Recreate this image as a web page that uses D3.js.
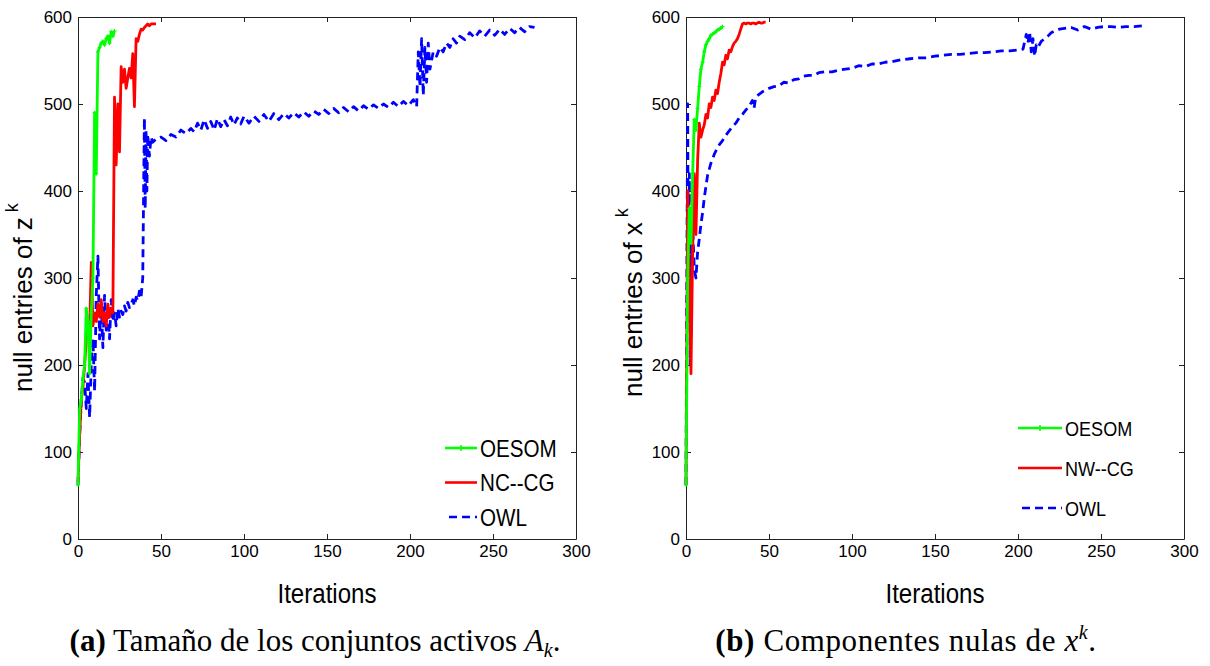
<!DOCTYPE html>
<meta charset="utf-8">
<style>
	body { margin: 0; background: #fff; }
	svg { display: block; }
	.tick > text { font-family: "Liberation Sans", Arial, sans-serif; font-size: 17px; fill: #000; }
	.domain, .tick > line { stroke: #222; }
	.axlabel { font-family: "Liberation Sans", Arial, sans-serif; fill: #000; }
	.legend text { font-family: "Liberation Sans", Arial, sans-serif; fill: #000; }
	.caption { font-family: "Liberation Serif", "DejaVu Serif", serif; font-size: 31px; fill: #000; }
	.line { fill: none; stroke-width: 2.8px; stroke-linejoin: round; }
</style>
<body>
<div id="chart"></div>
<script src="https://cdn.jsdelivr.net/npm/d3@7"></script>
<script>
// ---- data ----
var xTicks = [0, 50, 100, 150, 200, 250, 300];
var yTicks = [0, 100, 200, 300, 400, 500, 600];

// (a) active set sizes, one value per iteration
var oesomA = [62, 150, 160, 185, 200, 265, 250, 190, 260, 300, 490, 420, 560, 565, 570, 572, 568, 575, 578, 570, 583, 578, 584];
var nccgA = [65, 120, 160, 175, 200, 230, 250, 240, 318, 245, 260, 250, 270, 255, 275, 250, 260, 245, 270, 255, 265, 260,
	508, 430, 500, 445, 543, 525, 540, 518, 530, 541, 530, 558, 497, 575, 572, 580, 586, 585, 588, 590, 592, 590, 592, 592, 592, 592];
// OWL: [iteration, value]
var owlA = [[0, 62], [1, 120], [2, 160], [3, 185], [4, 180], [5, 150], [6, 190], [7, 140], [8, 200], [9, 230], [10, 170],
	[11, 280], [12, 325], [13, 230], [14, 270], [15, 220], [16, 280], [17, 240], [18, 265], [19, 230], [20, 275], [21, 250],
	[22, 260], [23, 245], [24, 265], [25, 255], [26, 262], [27, 258], [28, 268], [29, 262], [30, 272], [31, 266], [32, 270],
	[33, 275], [34, 268], [35, 278], [36, 274], [37, 285], [38, 278], [39, 300], [40, 484], [40.5, 380], [41, 470], [41.5, 400],
	[42, 465], [43, 440], [44, 462], [45, 456], [47, 460], [50, 462], [53, 458], [56, 465], [59, 462], [62, 470], [65, 466],
	[68, 472], [70, 468], [72, 478], [74, 470], [76, 482], [78, 472], [80, 480], [82, 470], [84, 483], [86, 474], [88, 482],
	[90, 475], [92, 485], [94, 476], [96, 484], [98, 477], [100, 486], [103, 478], [106, 486], [109, 480], [112, 488],
	[115, 480], [118, 489], [121, 482], [124, 489], [127, 484], [130, 490], [133, 485], [136, 491], [139, 486], [142, 492],
	[145, 488], [148, 494], [151, 489], [154, 495], [157, 490], [160, 496], [163, 491], [166, 497], [169, 492], [172, 498],
	[175, 494], [178, 499], [181, 495], [184, 500], [187, 496], [190, 502], [193, 497], [196, 503], [199, 498], [202, 505],
	[204, 497], [205, 560], [206, 520], [207, 575], [208, 510], [209, 565], [210, 525], [211, 570], [212, 540], [214, 560],
	[216, 555], [218, 565], [220, 560], [222, 570], [224, 565], [226, 575], [228, 570], [230, 578], [233, 574], [236, 582],
	[239, 576], [242, 584], [245, 578], [248, 585], [251, 579], [254, 586], [257, 580], [260, 587], [263, 582], [266, 588],
	[269, 583], [272, 589], [275, 588]];

// (b) null components of x^k
var oesomB = [62, 300, 380, 340, 420, 482, 470, 495, 520, 540, 548, 560, 568, 572, 575, 579, 580, 582, 583, 585, 586, 587, 589];
var nwcgB = [62, 400, 300, 190, 330, 420, 350, 435, 478, 462, 470, 476, 488, 484, 500, 496, 508, 504, 516, 512, 525, 535,
	548, 545, 556, 552, 562, 560, 566, 570, 572, 575, 580, 586, 592, 593, 592, 593, 593, 592, 593, 593, 592, 593, 594, 593,
	593, 594, 594];
var owlB = [[0, 62], [0.5, 300], [1, 500], [1.5, 250], [2, 420], [2.5, 200], [3, 380], [3.5, 300], [4, 360], [5, 310],
	[6, 300], [7, 330], [8, 345], [9, 362], [10, 375], [11, 392], [12, 405], [13, 418], [14, 425], [15, 432], [16, 437],
	[17, 442], [18, 446], [19, 450], [20, 453], [22, 458], [24, 464], [26, 469], [28, 474], [30, 478], [32, 484], [34, 488],
	[36, 493], [38, 497], [40, 504], [41, 495], [42, 508], [44, 511], [46, 514], [48, 516], [50, 518], [53, 520], [56, 521],
	[59, 525], [62, 524], [65, 528], [68, 529], [71, 532], [74, 533], [77, 533], [80, 536], [84, 537], [88, 537], [92, 539],
	[96, 540], [100, 541], [104, 544], [108, 543], [112, 546], [116, 546], [120, 548], [125, 549], [130, 551], [135, 552],
	[140, 553], [145, 553], [150, 555], [155, 556], [160, 557], [165, 557], [170, 558], [175, 559], [180, 559], [185, 560],
	[190, 561], [195, 561], [200, 562], [203, 563], [205, 580], [206, 570], [207, 583], [208, 560], [209, 575], [210, 555],
	[211, 568], [212, 565], [214, 572], [216, 575], [218, 578], [220, 582], [222, 584], [225, 586], [228, 587], [232, 588],
	[236, 585], [240, 589], [244, 586], [248, 588], [252, 589], [256, 589], [260, 588], [265, 589], [270, 589], [275, 590]];

var legendA = ["OESOM", "NC--CG", "OWL"];
var legendB = ["OESOM", "NW--CG", "OWL"];
var colors = ["#00ff00", "#ff0000", "#0000ff"];

// ---- drawing ----
var W = 1210, H = 666;
var pw = 498, ph = 522;

var svg = d3.select("#chart").append("svg")
	.attr("width", W)
	.attr("height", H);

var x = d3.scaleLinear().domain([0, 300]).range([0, pw]);
var y = d3.scaleLinear().domain([0, 600]).range([ph, 0]);

var line = d3.line()
	.x(function (d) { return x(d[0]); })
	.y(function (d) { return y(d[1]); });

function indexed(arr) {
	return arr.map(function (v, i) { return [i, v]; });
}

function panel(left, series, names, ylabelVar, legend) {
	var g = svg.append("g").attr("transform", "translate(" + left + ",17)");

	g.append("g").attr("transform", "translate(0," + ph + ")")
		.call(d3.axisBottom(x).tickValues(xTicks).tickSize(-5).tickPadding(6).tickSizeOuter(0));
	g.append("g")
		.call(d3.axisLeft(y).tickValues(yTicks).tickSize(-5).tickPadding(6).tickSizeOuter(0));
	g.append("g")
		.call(d3.axisTop(x).tickValues(xTicks).tickSize(-5).tickSizeOuter(0).tickFormat(""));
	g.append("g").attr("transform", "translate(" + pw + ",0)")
		.call(d3.axisRight(y).tickValues(yTicks).tickSize(-5).tickSizeOuter(0).tickFormat(""));

	// draw OWL first, then NC/NW, then OESOM
	[2, 1, 0].forEach(function (k) {
		g.append("path")
			.datum(series[k])
			.attr("class", "line")
			.attr("stroke", colors[k])
			.attr("stroke-dasharray", k === 2 ? "8,5" : null)
			.attr("d", line);
	});
	// small + markers on OESOM
	g.selectAll(".mk").data(series[0]).enter().append("path")
		.attr("d", function (d) {
			var cx = x(d[0]), cy = y(d[1]);
			return "M" + (cx - 2) + "," + cy + "h4M" + cx + "," + (cy - 2) + "v4";
		})
		.attr("stroke", colors[0]).attr("stroke-width", 1);

	g.append("text")
		.attr("class", "axlabel")
		.attr("transform", "translate(" + (pw / 2) + "," + (ph + 64) + ") scale(0.86,1)")
		.attr("text-anchor", "middle")
		.style("font-size", "28px")
		.text("Iterations");

	var yl = g.append("text")
		.attr("class", "axlabel")
		.attr("transform", "translate(" + (-left + legend.ylx) + "," + (legend.yly - 17) + ") rotate(-90)")
		.style("font-size", "26px");
	yl.append("tspan").text("null entries of " + ylabelVar);
	yl.append("tspan").attr("dx", 5).attr("dy", -14).style("font-size", "18px").text("k");

	var lg = g.append("g").attr("class", "legend");
	names.forEach(function (n, i) {
		var ly = legend.y + i * legend.dy;
		lg.append("line")
			.attr("x1", legend.x1 + (i === 2 ? 4 : 0)).attr("x2", legend.x2)
			.attr("y1", ly).attr("y2", ly)
			.attr("stroke", colors[i]).attr("stroke-width", 2.6)
			.attr("stroke-dasharray", i === 2 ? "8,5" : null);
		if (i === 0) {
			var mx = (legend.x1 + legend.x2) / 2;
			lg.append("path").attr("d", "M" + mx + "," + (ly - 3) + "v6")
				.attr("stroke", colors[0]).attr("stroke-width", 1.5);
		}
		lg.append("text")
			.attr("transform", "translate(" + (legend.x2 + 3) + "," + ly + ") scale(0.86,1)")
			.attr("dy", "0.36em")
			.style("font-size", legend.fs + "px")
			.text(n);
	});
}

panel(78, [indexed(oesomA), indexed(nccgA), owlA], legendA, "z",
	{x1: 367, x2: 399, y: 431, dy: 34.5, fs: 24, ylx: 32, yly: 392});
panel(686, [indexed(oesomB), indexed(nwcgB), owlB], legendB, "x",
	{x1: 332, x2: 376, y: 411, dy: 40, fs: 21, ylx: 642, yly: 397});

// captions
var capA = svg.append("text").attr("class", "caption")
	.attr("x", 315).attr("y", 651).attr("text-anchor", "middle");
capA.append("tspan").style("font-weight", "bold").text("(a)");
capA.append("tspan").text(" Tamaño de los conjuntos activos ");
capA.append("tspan").style("font-style", "italic").text("A");
capA.append("tspan").attr("dy", 6).style("font-size", "20px").style("font-style", "italic").text("k");
capA.append("tspan").attr("dy", -6).text(".");

var capB = svg.append("text").attr("class", "caption")
	.attr("x", 906).attr("y", 651).attr("text-anchor", "middle")
	.style("letter-spacing", "0.6px");
capB.append("tspan").style("font-weight", "bold").text("(b)");
capB.append("tspan").text(" Componentes nulas de ");
capB.append("tspan").style("font-style", "italic").text("x");
capB.append("tspan").attr("dy", -12).style("font-size", "20px").style("font-style", "italic").text("k");
capB.append("tspan").attr("dy", 12).text(".");
</script>
</body>
